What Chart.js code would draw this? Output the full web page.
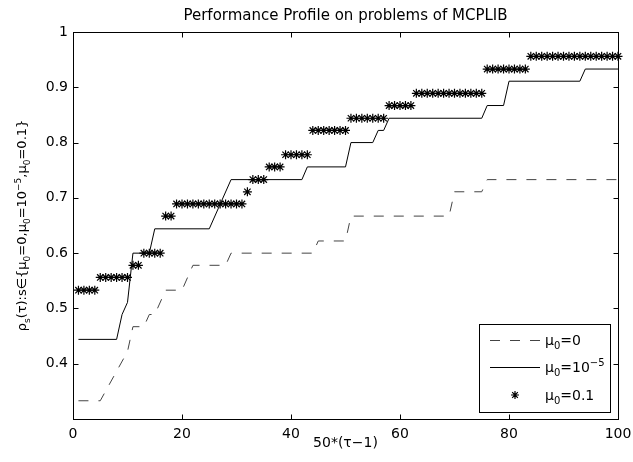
<!DOCTYPE html>
<html lang="en">
<head>
<meta charset="UTF-8" />
<title>Performance Profile on problems of MCPLIB</title>
<script src="https://cdn.jsdelivr.net/npm/chart.js"></script>
<style>
  html, body { margin: 0; padding: 0; background: #fff; }
  #wrap { width: 633px; height: 462px; position: relative; }
</style>
</head>
<body>
<div id="wrap"><canvas id="profileChart"></canvas></div>
<script>
// tick labels
var xTicks = [0, 20, 40, 60, 80, 100];
var yTicks = [0.4, 0.5, 0.6, 0.7, 0.8, 0.9, 1];

// mu0 = 0 (dashed line): corners of the curve
var dashX = [1, 5, 10, 11, 13, 14, 15, 17, 20, 22, 28, 29, 44, 45, 50, 51, 69, 70, 75, 76, 100];
var dashY = [0.333, 0.333, 0.422, 0.467, 0.467, 0.489, 0.489, 0.533, 0.533, 0.578, 0.578,
             0.6, 0.6, 0.622, 0.622, 0.667, 0.667, 0.711, 0.711, 0.733, 0.733];

// mu0 = 1e-5 (solid line): corners of the curve
var solidX = [1, 8, 9, 10, 11, 14, 15, 25, 29, 42, 43, 50, 51, 55, 56, 57, 58, 75, 76, 79, 80, 93, 94, 100];
var solidY = [0.444, 0.444, 0.489, 0.511, 0.6, 0.6, 0.644, 0.644, 0.733, 0.733, 0.756, 0.756,
              0.8, 0.8, 0.822, 0.822, 0.844, 0.844, 0.867, 0.867, 0.911, 0.911, 0.933, 0.933];

// mu0 = 0.1 (stars): one value per step, x = 1..100
var starY = [
  0.533, 0.533, 0.533, 0.533, 0.556, 0.556, 0.556, 0.556, 0.556, 0.556,
  0.578, 0.578, 0.6, 0.6, 0.6, 0.6, 0.667, 0.667, 0.689, 0.689,
  0.689, 0.689, 0.689, 0.689, 0.689, 0.689, 0.689, 0.689, 0.689, 0.689,
  0.689, 0.711, 0.733, 0.733, 0.733, 0.756, 0.756, 0.756, 0.778, 0.778,
  0.778, 0.778, 0.778, 0.822, 0.822, 0.822, 0.822, 0.822, 0.822, 0.822,
  0.844, 0.844, 0.844, 0.844, 0.844, 0.844, 0.844, 0.867, 0.867, 0.867,
  0.867, 0.867, 0.889, 0.889, 0.889, 0.889, 0.889, 0.889, 0.889, 0.889,
  0.889, 0.889, 0.889, 0.889, 0.889, 0.933, 0.933, 0.933, 0.933, 0.933,
  0.933, 0.933, 0.933, 0.956, 0.956, 0.956, 0.956, 0.956, 0.956, 0.956,
  0.956, 0.956, 0.956, 0.956, 0.956, 0.956, 0.956, 0.956, 0.956, 0.956
];

var FONT = "'DejaVu Sans', sans-serif";

function pts(xs, ys) {
  return xs.map(function (x, i) { return { x: x, y: ys[i] }; });
}

// text with sub/superscripts, drawn left to right from (x, y) on the baseline
function drawRich(ctx, parts, x, y, size, measureOnly) {
  var cx = x;
  parts.forEach(function (p) {
    var small = p[1] !== "";
    var fs = small ? Math.round(size * 0.72) : size;
    var dy = p[1] === "sub" ? size * 0.32 : p[1] === "sup" ? -size * 0.42 : 0;
    ctx.font = fs + "px " + FONT;
    if (!measureOnly) ctx.fillText(p[0], cx, y + dy);
    cx += ctx.measureText(p[0]).width;
  });
  return cx - x;
}

var yTitle = [["ρ", ""], ["s", "sub"], ["(τ):s∈{μ", ""], ["0", "sub"], ["=0,μ", ""], ["0", "sub"],
              ["=10", ""], ["−5", "sup"], [",μ", ""], ["0", "sub"], ["=0.1}", ""]];
var legendItems = [
  { label: [["μ", ""], ["0", "sub"], ["=0", ""]], kind: "dash" },
  { label: [["μ", ""], ["0", "sub"], ["=10", ""], ["−5", "sup"]], kind: "solid" },
  { label: [["μ", ""], ["0", "sub"], ["=0.1", ""]], kind: "star" }
];

function drawStar(ctx, x, y, r) {
  var d = r * Math.SQRT1_2;
  ctx.beginPath();
  ctx.moveTo(x - r, y); ctx.lineTo(x + r, y);
  ctx.moveTo(x, y - r); ctx.lineTo(x, y + r);
  ctx.moveTo(x - d, y - d); ctx.lineTo(x + d, y + d);
  ctx.moveTo(x - d, y + d); ctx.lineTo(x + d, y - d);
  ctx.stroke();
}

// box, inner ticks, y title and legend in the matlab look
var matlabAxes = {
  id: "matlabAxes",
  afterDraw: function (chart) {
    var ctx = chart.ctx;
    var a = chart.chartArea;
    var sx = chart.scales.x, sy = chart.scales.y;
    var L = Math.round(a.left) + 0.5, R = Math.round(a.right) + 0.5;
    var T = Math.round(a.top) + 0.5, B = Math.round(a.bottom) + 0.5;
    ctx.save();
    ctx.strokeStyle = "#000";
    ctx.lineWidth = 1;
    ctx.strokeRect(L, T, R - L, B - T);
    ctx.beginPath();
    xTicks.forEach(function (v) {
      var px = Math.round(sx.getPixelForValue(v)) + 0.5;
      ctx.moveTo(px, B); ctx.lineTo(px, B - 5);
      ctx.moveTo(px, T); ctx.lineTo(px, T + 5);
    });
    yTicks.forEach(function (v) {
      var py = Math.round(sy.getPixelForValue(v)) + 0.5;
      ctx.moveTo(L, py); ctx.lineTo(L + 5, py);
      ctx.moveTo(R, py); ctx.lineTo(R - 5, py);
    });
    ctx.stroke();

    // y axis title
    ctx.fillStyle = "#000";
    ctx.textBaseline = "alphabetic";
    ctx.textAlign = "left";
    var w = drawRich(ctx, yTitle, 0, 0, 13, true);
    ctx.translate(26, (a.top + a.bottom) / 2);
    ctx.rotate(-Math.PI / 2);
    drawRich(ctx, yTitle, -w / 2, 0, 13);
    ctx.restore();

    // legend
    ctx.save();
    var bx = 479.5, by = 324.5, bw = 131, bh = 88;
    ctx.fillStyle = "#fff";
    ctx.fillRect(bx, by, bw, bh);
    ctx.strokeStyle = "#000";
    ctx.lineWidth = 1;
    ctx.strokeRect(bx, by, bw, bh);
    var rows = [340, 367, 395];
    legendItems.forEach(function (it, i) {
      var y = rows[i];
      ctx.lineWidth = 1;
      if (it.kind === "dash") {
        ctx.strokeStyle = "#444";
        ctx.setLineDash([10, 10]);
        ctx.beginPath(); ctx.moveTo(490, y + 0.5); ctx.lineTo(540, y + 0.5); ctx.stroke();
        ctx.setLineDash([]);
      } else if (it.kind === "solid") {
        ctx.strokeStyle = "#000";
        ctx.beginPath(); ctx.moveTo(490, y + 0.5); ctx.lineTo(540, y + 0.5); ctx.stroke();
      } else {
        ctx.strokeStyle = "#000";
        ctx.lineWidth = 1.2;
        drawStar(ctx, 515, y, 4);
      }
      ctx.fillStyle = "#000";
      ctx.textBaseline = "alphabetic";
      drawRich(ctx, it.label, 545, y + 5, 14);
    });
    ctx.restore();
  }
};

var ctxProfile = document.getElementById("profileChart").getContext("2d");
var profileChart = new Chart(ctxProfile, {
  type: "line",
  data: {
    datasets: [
      {
        label: "mu0=0",
        data: pts(dashX, dashY),
        borderColor: "#444",
        borderWidth: 1,
        borderDash: [10, 10],
        pointRadius: 0,
        tension: 0,
        fill: false
      },
      {
        label: "mu0=1e-5",
        data: pts(solidX, solidY),
        borderColor: "#000",
        borderWidth: 1,
        pointRadius: 0,
        tension: 0,
        fill: false
      },
      {
        label: "mu0=0.1",
        data: starY.map(function (v, i) { return { x: i + 1, y: v }; }),
        showLine: false,
        pointStyle: "star",
        pointRadius: 4.5,
        pointBorderWidth: 1.2,
        pointBorderColor: "#000",
        pointBackgroundColor: "#000",
        clip: false
      }
    ]
  },
  options: {
    responsive: true,
    maintainAspectRatio: false,
    animation: false,
    layout: { padding: { left: 0, right: 15, top: 0, bottom: 0 } },
    plugins: {
      legend: { display: false },
      tooltip: { enabled: false },
      title: {
        display: true,
        fullSize: false,
        text: "Performance Profile on problems of MCPLIB",
        color: "#000",
        font: { family: FONT, size: 15, weight: "normal" },
        padding: { top: 7, bottom: 7 }
      }
    },
    scales: {
      x: {
        type: "linear",
        min: 0,
        max: 100,
        grid: { display: false, drawTicks: false },
        border: { display: false },
        afterBuildTicks: function (s) { s.ticks = xTicks.map(function (v) { return { value: v }; }); },
        afterFit: function (s) { s.height = 43; s.paddingLeft = 0; s.paddingRight = 0; },
        ticks: {
          color: "#000",
          padding: 7,
          maxRotation: 0,
          font: { family: FONT, size: 14 },
          callback: function (v) { return String(v); }
        },
        title: {
          display: true,
          text: "50*(τ−1)",
          color: "#000",
          font: { family: FONT, size: 14 },
          padding: { top: 0, bottom: 10 }
        }
      },
      y: {
        type: "linear",
        min: 0.3,
        max: 1,
        grid: { display: false, drawTicks: false },
        border: { display: false },
        afterBuildTicks: function (s) { s.ticks = yTicks.map(function (v) { return { value: v }; }); },
        afterFit: function (s) { s.width = 73; },
        ticks: {
          color: "#000",
          padding: 5,
          font: { family: FONT, size: 14 },
          callback: function (v) { return String(v); }
        }
      }
    }
  },
  plugins: [matlabAxes]
});
</script>
</body>
</html>
